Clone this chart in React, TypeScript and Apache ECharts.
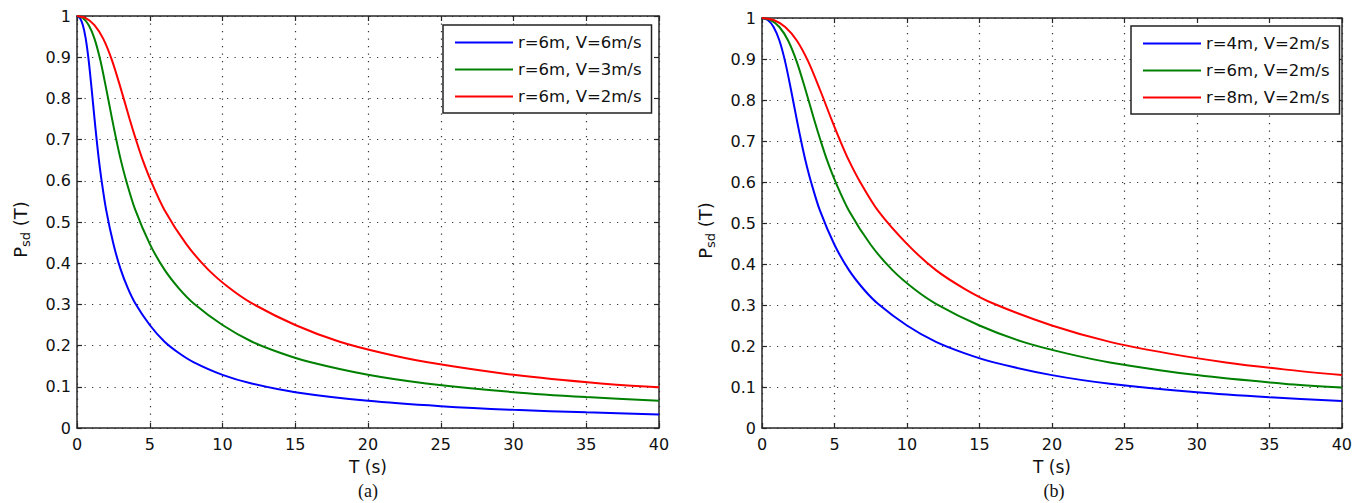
import React, { useEffect, useRef } from "react";
import * as echarts from "echarts";

// ---------- data ----------
const namesA = ["r=6m, V=6m/s", "r=6m, V=3m/s", "r=6m, V=2m/s"];
const namesB = ["r=4m, V=2m/s", "r=6m, V=2m/s", "r=8m, V=2m/s"];

// panel (a)
const aBlueT = [0, 0.2, 0.4, 0.6, 0.8, 1, 1.2, 1.35, 1.5, 1.7, 2, 2.5, 3, 3.5, 4, 5, 6, 7, 8, 10, 12, 15, 20, 25, 30, 35, 40];
const aBlueP = [1, 0.995, 0.978, 0.945, 0.893, 0.825, 0.752, 0.7, 0.652, 0.598, 0.53, 0.447, 0.385, 0.339, 0.303, 0.25, 0.21, 0.182, 0.16, 0.129, 0.108, 0.087, 0.066, 0.053, 0.044, 0.038, 0.033];
const aGreenT = [0, 0.4, 0.8, 1.2, 1.6, 2, 2.4, 2.7, 3, 3.4, 4, 5, 6, 7, 8, 10, 12, 14, 16, 20, 24, 30, 35, 40];
const aGreenP = [1, 0.995, 0.978, 0.945, 0.893, 0.825, 0.752, 0.7, 0.652, 0.598, 0.53, 0.447, 0.385, 0.339, 0.303, 0.25, 0.21, 0.182, 0.16, 0.129, 0.108, 0.087, 0.075, 0.066];
const aRedT = [0, 0.6, 1.2, 1.8, 2.4, 3, 3.6, 4.05, 4.5, 5.1, 6, 7.5, 9, 10.5, 12, 15, 18, 21, 24, 30, 36, 40];
const aRedP = [1, 0.995, 0.978, 0.945, 0.893, 0.825, 0.752, 0.7, 0.652, 0.598, 0.53, 0.447, 0.385, 0.339, 0.303, 0.25, 0.21, 0.182, 0.16, 0.129, 0.108, 0.099];

// panel (b)
const bBlueT = [0, 0.4, 0.8, 1.2, 1.6, 2, 2.4, 2.7, 3, 3.4, 4, 5, 6, 7, 8, 10, 12, 14, 16, 20, 24, 30, 35, 40];
const bBlueP = [1, 0.995, 0.978, 0.945, 0.893, 0.825, 0.752, 0.7, 0.652, 0.598, 0.53, 0.447, 0.385, 0.339, 0.303, 0.25, 0.21, 0.182, 0.16, 0.129, 0.108, 0.087, 0.075, 0.066];
const bGreenT = [0, 0.6, 1.2, 1.8, 2.4, 3, 3.6, 4.05, 4.5, 5.1, 6, 7.5, 9, 10.5, 12, 15, 18, 21, 24, 30, 36, 40];
const bGreenP = [1, 0.995, 0.978, 0.945, 0.893, 0.825, 0.752, 0.7, 0.652, 0.598, 0.53, 0.447, 0.385, 0.339, 0.303, 0.25, 0.21, 0.182, 0.16, 0.129, 0.108, 0.099];
const bRedT = [0, 0.8, 1.6, 2.4, 3.2, 4, 4.8, 5.4, 6, 6.8, 8, 10, 12, 14, 16, 20, 24, 28, 32, 36, 40];
const bRedP = [1, 0.995, 0.978, 0.945, 0.893, 0.825, 0.752, 0.7, 0.652, 0.598, 0.53, 0.449, 0.385, 0.339, 0.303, 0.25, 0.21, 0.182, 0.16, 0.143, 0.129];

const captions = ["(a)", "(b)"];

// ---------- styles ----------
const FONT = "DejaVu Sans";
const SERIF = "Liberation Serif";
const BLUE = "#0000ff";
const GREEN = "#008000";
const RED = "#ff0000";
const FRAME = "#262626";
const TEXT = "#111";

const pairs = (t: number[], p: number[]) => t.map((v, i) => [v, p[i]]);

function mainX(gridIndex: number) {
  return {
    type: "value",
    gridIndex,
    position: "bottom",
    min: 0,
    max: 40,
    interval: 5,
    axisLine: { show: true, onZero: false, lineStyle: { color: FRAME, width: 1.5 } },
    axisTick: { show: true, inside: true, length: 5, lineStyle: { color: FRAME, width: 1.2 } },
    axisLabel: { margin: 8, fontSize: 16, fontFamily: FONT, color: TEXT },
    splitLine: { show: true, lineStyle: { color: "#333", width: 1.2, type: [1.2, 6.3] } },
    name: "T (s)",
    nameLocation: "middle",
    nameGap: 30,
    nameTextStyle: { fontSize: 17, fontFamily: FONT, color: TEXT },
  };
}
function topX(gridIndex: number) {
  return {
    type: "value",
    gridIndex,
    position: "top",
    min: 0,
    max: 40,
    interval: 5,
    axisLine: { show: true, onZero: false, lineStyle: { color: FRAME, width: 1.5 } },
    axisTick: { show: true, inside: true, length: 5, lineStyle: { color: FRAME, width: 1.2 } },
    axisLabel: { show: false },
    splitLine: { show: false },
  };
}
function mainY(gridIndex: number) {
  return {
    type: "value",
    gridIndex,
    position: "left",
    min: 0,
    max: 1,
    interval: 0.1,
    axisLine: { show: true, onZero: false, lineStyle: { color: FRAME, width: 1.5 } },
    axisTick: { show: true, inside: true, length: 5, lineStyle: { color: FRAME, width: 1.2 } },
    axisLabel: {
      margin: 6,
      fontSize: 16,
      fontFamily: FONT,
      color: TEXT,
      formatter: (v: number) => String(Math.round(v * 10) / 10),
    },
    splitLine: { show: true, lineStyle: { color: "#333", width: 1.2, type: [1.2, 6.3] } },
    name: "{a|P}{b|sd}{a| (T)}",
    nameLocation: "middle",
    nameRotate: 90,
    nameGap: 45,
    nameTextStyle: {
      fontSize: 18,
      fontFamily: FONT,
      color: TEXT,
      padding: [0, 15, 0, 0],
      rich: {
        a: { fontSize: 18, fontFamily: FONT, color: TEXT },
        b: { fontSize: 13, fontFamily: FONT, color: TEXT, padding: [10, 0, 0, 0] },
      },
    },
  };
}
function rightY(gridIndex: number) {
  return {
    type: "value",
    gridIndex,
    position: "right",
    min: 0,
    max: 1,
    interval: 0.1,
    axisLine: { show: true, onZero: false, lineStyle: { color: FRAME, width: 1.5 } },
    axisTick: { show: true, inside: true, length: 5, lineStyle: { color: FRAME, width: 1.2 } },
    axisLabel: { show: false },
    splitLine: { show: false },
  };
}

function lineSeries(name: string, color: string, axis: number, t: number[], p: number[]) {
  return {
    type: "line",
    name,
    xAxisIndex: axis,
    yAxisIndex: axis,
    data: pairs(t, p),
    symbol: "none",
    showSymbol: false,
    smooth: 0.3,
    lineStyle: { color, width: 2 },
    itemStyle: { color },
    z: 3,
  };
}

function legend(left: number, top: number, names: string[], colors: string[]) {
  return {
    show: true,
    orient: "vertical",
    left,
    top,
    icon: "rect",
    itemWidth: 58,
    itemHeight: 2,
    itemGap: 10,
    padding: [9, 10, 8, 12],
    borderColor: "#222",
    borderWidth: 1.5,
    borderRadius: 0,
    backgroundColor: "#fff",
    selectedMode: false,
    textStyle: { fontFamily: FONT, fontSize: 16.5, color: TEXT },
    data: names.map((n, i) => ({
      name: n,
      icon: "rect",
      itemStyle: { color: colors[i], borderWidth: 0 },
      lineStyle: { color: colors[i] },
    })),
    z: 10,
  };
}

export default function App() {
  const ref = useRef<HTMLDivElement>(null);
  useEffect(() => {
    if (!ref.current) return;
    const chart = echarts.init(ref.current, null, { renderer: "svg", width: 1355, height: 503 });
    const option = {
      animation: false,
      backgroundColor: "#fff",
      grid: [
        { left: 77, top: 16, width: 582, height: 412 },
        { left: 762, top: 18, width: 581, height: 410 },
      ],
      xAxis: [mainX(0), topX(0), mainX(1), topX(1)],
      yAxis: [mainY(0), rightY(0), mainY(1), rightY(1)],
      legend: [
        legend(443, 25, namesA, [BLUE, GREEN, RED]),
        legend(1131, 26, namesB, [BLUE, GREEN, RED]),
      ],
      series: [
        lineSeries(namesA[0], BLUE, 0, aBlueT, aBlueP),
        lineSeries(namesA[1], GREEN, 0, aGreenT, aGreenP),
        lineSeries(namesA[2], RED, 0, aRedT, aRedP),
        lineSeries(namesB[0], BLUE, 2, bBlueT, bBlueP),
        lineSeries(namesB[1], GREEN, 2, bGreenT, bGreenP),
        lineSeries(namesB[2], RED, 2, bRedT, bRedP),
      ],
      graphic: [
        {
          type: "text",
          x: 368,
          y: 491,
          style: { text: captions[0], fontFamily: SERIF, fontSize: 18, fill: "#111", textAlign: "center", textVerticalAlign: "middle" },
        },
        {
          type: "text",
          x: 1054,
          y: 491,
          style: { text: captions[1], fontFamily: SERIF, fontSize: 18, fill: "#111", textAlign: "center", textVerticalAlign: "middle" },
        },
      ],
    };
    chart.setOption(option as any);
    return () => chart.dispose();
  }, []);
  return (
    <div
      ref={ref}
      style={{ position: "absolute", left: 0, top: 0, width: 1355, height: 503, background: "#fff" }}
    />
  );
}
